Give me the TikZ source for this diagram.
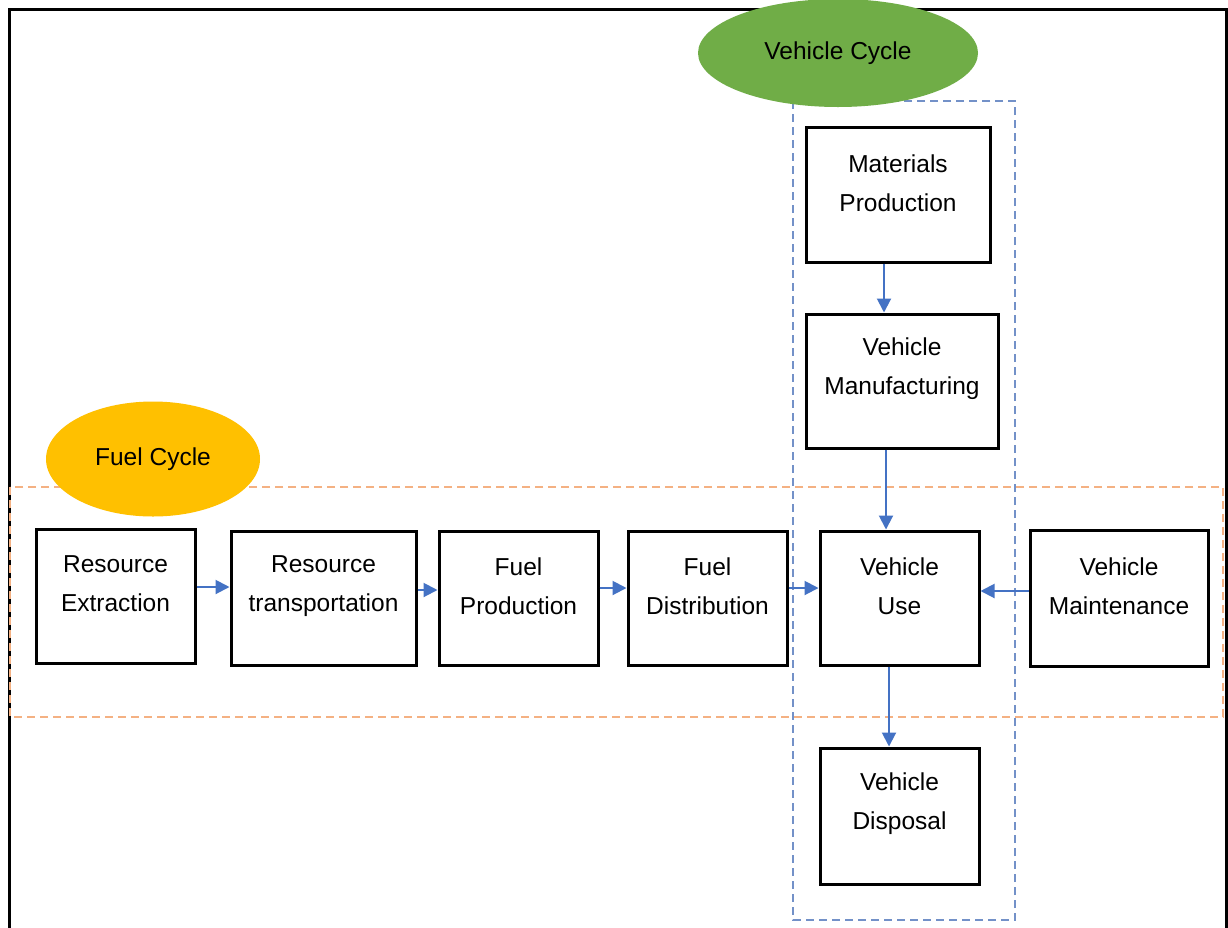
\documentclass[tikz,border=0pt]{standalone}
\usepackage{fontspec}
\setmainfont{Liberation Sans}
\usetikzlibrary{arrows.meta,shapes.geometric}
\definecolor{arrblue}{HTML}{4472C4}
\definecolor{dashblue}{HTML}{7391C8}
\definecolor{dashorange}{HTML}{F4B183}
\definecolor{vgreen}{HTML}{70AD47}
\definecolor{fgold}{HTML}{FFC000}
\tikzset{
  box/.style={draw=black, line width=3pt, fill=white, inner sep=0pt},
  txt/.style={align=center, font=\fontsize{24.5}{39}\selectfont, inner sep=0pt},
  flow/.style={draw=arrblue, line width=2pt, -{Triangle[length=14pt,width=14pt]}},
  cyc/.style={ellipse, inner sep=0pt, font=\fontsize{24.5}{28}\selectfont},
  zone/.style={line width=2pt, dash pattern=on 8pt off 5pt}
}
\begin{document}
\begin{tikzpicture}[x=1pt,y=-1pt]
\useasboundingbox (0,0) rectangle (1228,927);
\fill[white] (0,0) rectangle (1228,927);
% outer frame
\draw[line width=3pt] (9,940) -- (9,9) -- (1226,9) -- (1226,940);
% zones
\draw[zone, draw=dashorange] (10,487) rectangle (1223,717);
\draw[zone, draw=dashblue] (793,101) rectangle (1015,920);
% ellipses
\node[cyc, fill=vgreen, minimum width=280pt, minimum height=108pt] (vc) at (838,53) {Vehicle Cycle};
\node[cyc, fill=fgold, minimum width=214pt, minimum height=115pt] (fc) at (153,459) {Fuel Cycle};
% boxes
\node[box, minimum width=159pt, minimum height=134pt] (re) at (115.5,596) {};
\node[box, minimum width=185pt, minimum height=134pt] (rt) at (323.5,598) {};
\node[box, minimum width=159pt, minimum height=134pt] (fp) at (518.5,598) {};
\node[box, minimum width=159pt, minimum height=134pt] (fd) at (707.5,598) {};
\node[box, minimum width=159pt, minimum height=134pt] (vu) at (899.5,598) {};
\node[box, minimum width=178pt, minimum height=136pt] (vm) at (1119,598) {};
\node[box, minimum width=184pt, minimum height=135pt] (mp) at (898,194.5) {};
\node[box, minimum width=192pt, minimum height=134pt] (vf) at (902,381) {};
\node[box, minimum width=159pt, minimum height=136pt] (vd) at (899.5,816) {};
% texts
\node[txt] (tre) at (115.5,584) {Resource\\Extraction};
\node[txt] (trt) at (323.5,586) {Resource\\transportation};
\node[txt] (tfp) at (518.5,586) {Fuel\\Production};
\node[txt] (tfd) at (707.5,586) {Fuel\\Distribution};
\node[txt] (tvu) at (899.5,586) {Vehicle\\Use};
\node[txt] (tvm) at (1119,586) {Vehicle\\Maintenance};
\node[txt] (tmp) at (898,183) {Materials\\Production};
\node[txt] (tvf) at (902,369) {Vehicle\\Manufacturing};
\node[txt] (tvd) at (899.5,804) {Vehicle\\Disposal};
% connectors
\draw[flow] (re.east |- 0,587) -- (rt.west |- 0,587);
\draw[flow] (rt.east |- 0,590) -- (fp.west |- 0,590);
\draw[flow] (fp.east |- 0,588) -- (fd.west |- 0,588);
\draw[flow] (fd.east |- 0,588) -- (vu.west |- 0,588);
\draw[flow] (vm.west |- 0,591) -- (vu.east |- 0,591);
\draw[flow] (mp.south -| 884,0) -- (vf.north -| 884,0);
\draw[flow] (vf.south -| 886,0) -- (vu.north -| 886,0);
\draw[flow] (vu.south -| 889,0) -- (vd.north -| 889,0);
\end{tikzpicture}
\end{document}
